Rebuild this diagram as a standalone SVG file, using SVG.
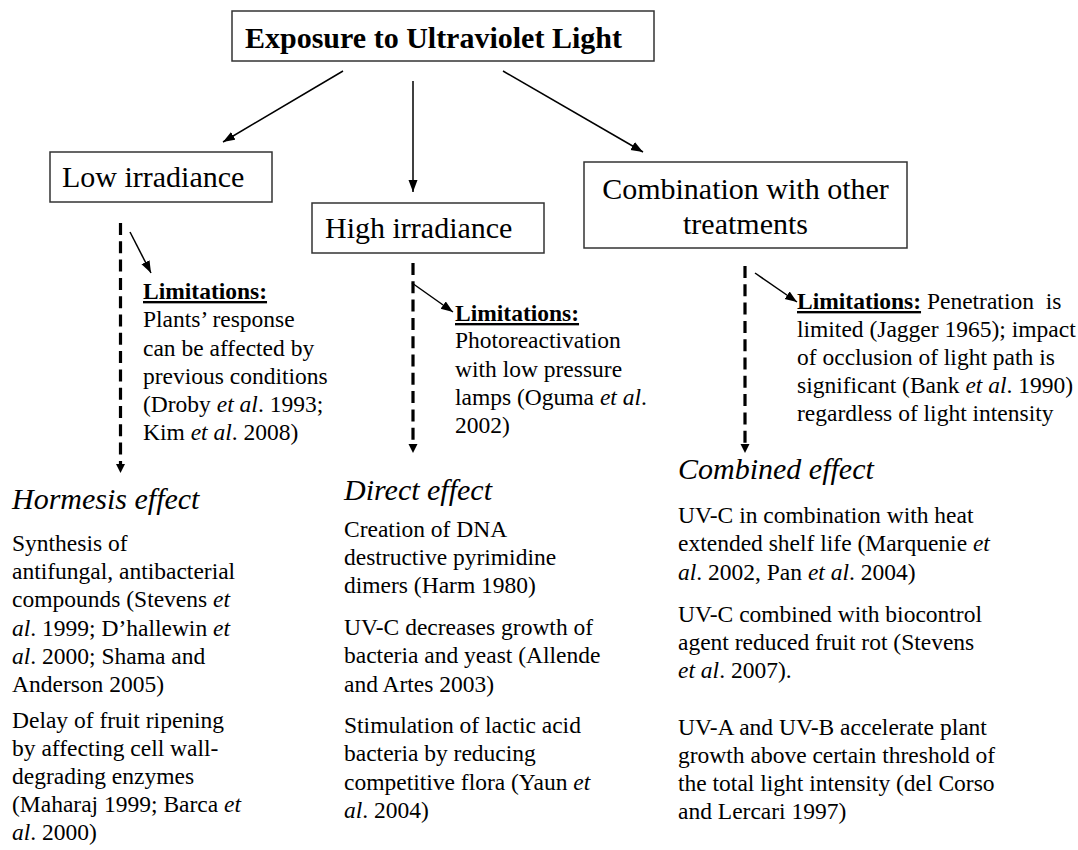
<svg xmlns="http://www.w3.org/2000/svg" width="1078" height="850" viewBox="0 0 1078 850">
<style>
text{font-family:"Liberation Serif","Times New Roman",serif;fill:#000}
.title{font-size:30px;font-weight:bold}
.box{fill:#fff;stroke:#333;stroke-width:1.5}
.lbl{font-size:30px}
.head{font-size:30px;font-style:italic}
.body{font-size:23.5px}
.it{font-style:italic}
.lim{font-weight:bold;text-decoration:underline}
.arr{stroke:#000;stroke-width:1.5;fill:none}
.dash{stroke:#000;stroke-width:3.2;fill:none;stroke-dasharray:12 6.3}
</style>
<defs>
<marker id="ah" markerUnits="userSpaceOnUse" markerWidth="13" markerHeight="10" refX="12" refY="4.5" orient="auto"><path d="M0,0 L12,4.5 L0,9 z" fill="#000"/></marker>
<marker id="dh" markerUnits="userSpaceOnUse" markerWidth="10" markerHeight="10" refX="0" refY="4.5" orient="auto"><path d="M0,0 L9,4.5 L0,9 z" fill="#000"/></marker>
</defs>
<g id="n-exposure">
<rect class="box" x="232" y="11" width="422" height="50"/>
<text class="title" x="245" y="48">Exposure to Ultraviolet Light</text>
</g>
<g id="n-low">
<rect class="box" x="50" y="152" width="222" height="50"/>
<text class="lbl" x="62" y="187">Low irradiance</text>
</g>
<g id="n-high">
<rect class="box" x="312" y="203" width="232" height="50"/>
<text class="lbl" x="325" y="238">High irradiance</text>
</g>
<g id="n-combo">
<rect class="box" x="584" y="162" width="323" height="86"/>
<text class="lbl" x="745.5" y="199" text-anchor="middle">Combination with other</text>
<text class="lbl" x="745.5" y="234" text-anchor="middle">treatments</text>
</g>
<g id="n-lim-low" class="body">
<text x="143" y="299" class="lim">Limitations:</text>
<text x="143" y="327">Plants’ response</text>
<text x="143" y="356">can be affected by</text>
<text x="143" y="384">previous conditions</text>
<text x="143" y="412">(Droby <tspan class="it">et al</tspan>. 1993;</text>
<text x="143" y="440">Kim <tspan class="it">et al</tspan>. 2008)</text>
</g>
<g id="n-lim-high" class="body">
<text x="455" y="321" class="lim">Limitations:</text>
<text x="455" y="348">Photoreactivation</text>
<text x="455" y="377">with low pressure</text>
<text x="455" y="405">lamps (Oguma <tspan class="it">et al</tspan>.</text>
<text x="455" y="433">2002)</text>
</g>
<g id="n-lim-combo" class="body">
<text x="797" y="309" xml:space="preserve"><tspan class="lim">Limitations:</tspan> Penetration  is</text>
<text x="797" y="337">limited (Jagger 1965); impact</text>
<text x="797" y="365">of occlusion of light path is</text>
<text x="797" y="393">significant (Bank <tspan class="it">et al</tspan>. 1990)</text>
<text x="797" y="421">regardless of light intensity</text>
</g>
<g id="n-hormesis">
<text class="head" x="12" y="509">Hormesis effect</text>
<g class="body">
<text x="12" y="551">Synthesis of</text>
<text x="12" y="579">antifungal, antibacterial</text>
<text x="12" y="607">compounds (Stevens <tspan class="it">et</tspan></text>
<text x="12" y="636"><tspan class="it">al</tspan>. 1999; D’hallewin <tspan class="it">et</tspan></text>
<text x="12" y="664"><tspan class="it">al</tspan>. 2000; Shama and</text>
<text x="12" y="692">Anderson 2005)</text>
<text x="12" y="728">Delay of fruit ripening</text>
<text x="12" y="756">by affecting cell wall-</text>
<text x="12" y="784">degrading enzymes</text>
<text x="12" y="812">(Maharaj 1999; Barca <tspan class="it">et</tspan></text>
<text x="12" y="840"><tspan class="it">al</tspan>. 2000)</text>
</g>
</g>
<g id="n-direct">
<text class="head" x="344" y="500">Direct effect</text>
<g class="body">
<text x="344" y="537">Creation of DNA</text>
<text x="344" y="565">destructive pyrimidine</text>
<text x="344" y="593">dimers (Harm 1980)</text>
<text x="344" y="635">UV-C decreases growth of</text>
<text x="344" y="663">bacteria and yeast (Allende</text>
<text x="344" y="692">and Artes 2003)</text>
<text x="344" y="733">Stimulation of lactic acid</text>
<text x="344" y="761">bacteria by reducing</text>
<text x="344" y="790">competitive flora (Yaun <tspan class="it">et</tspan></text>
<text x="344" y="818"><tspan class="it">al</tspan>. 2004)</text>
</g>
</g>
<g id="n-combined">
<text class="head" x="678" y="479">Combined effect</text>
<g class="body">
<text x="678" y="523">UV-C in combination with heat</text>
<text x="678" y="551">extended shelf life (Marquenie <tspan class="it">et</tspan></text>
<text x="678" y="580"><tspan class="it">al</tspan>. 2002, Pan <tspan class="it">et al</tspan>. 2004)</text>
<text x="678" y="622">UV-C combined with biocontrol</text>
<text x="678" y="650">agent reduced fruit rot (Stevens</text>
<text x="678" y="678"><tspan class="it">et al</tspan>. 2007).</text>
<text x="678" y="735">UV-A and UV-B accelerate plant</text>
<text x="678" y="763">growth above certain threshold of</text>
<text x="678" y="791">the total light intensity (del Corso</text>
<text x="678" y="819">and Lercari 1997)</text>
</g>
</g>
<g id="connectors">
<line class="arr" x1="343" y1="71" x2="223" y2="142" marker-end="url(#ah)"/>
<line class="arr" x1="413" y1="81" x2="413" y2="192" marker-end="url(#ah)"/>
<line class="arr" x1="503" y1="71" x2="643" y2="152" marker-end="url(#ah)"/>
<line class="dash" x1="120.5" y1="223" x2="120.5" y2="464" marker-end="url(#dh)"/>
<line class="dash" x1="413" y1="263" x2="413" y2="444" marker-end="url(#dh)"/>
<line class="dash" x1="745" y1="266" x2="745" y2="444" marker-end="url(#dh)"/>
<line class="arr" x1="130" y1="232" x2="151" y2="273" marker-end="url(#ah)"/>
<line class="arr" x1="412" y1="283" x2="453" y2="312" marker-end="url(#ah)"/>
<line class="arr" x1="755" y1="273" x2="797" y2="302" marker-end="url(#ah)"/>
</g>
</svg>
